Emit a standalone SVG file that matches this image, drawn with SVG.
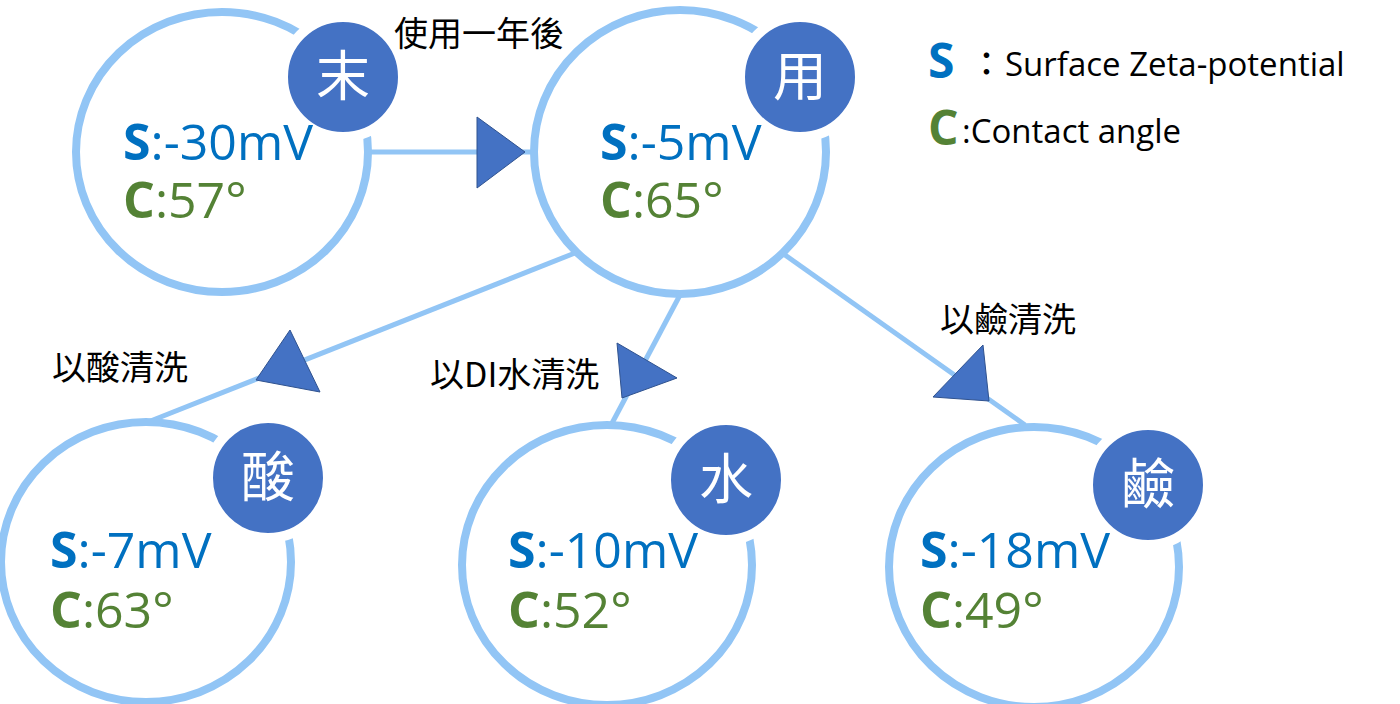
<svg xmlns="http://www.w3.org/2000/svg" width="1400" height="704" viewBox="0 0 1400 704">
<style>
.ring{fill:none;stroke:#92c5f5;stroke-width:8}
.badge{fill:#4472c4;stroke:#fff;stroke-width:10}
.bt{fill:#fff;font-family:"Noto Sans CJK TC",sans-serif;font-size:54px;text-anchor:middle}
.s{fill:#0070c0;font-family:"Open Sans",sans-serif;font-size:50px;font-weight:500}
.c{fill:#548235;font-family:"Open Sans",sans-serif;font-size:50px;font-weight:500}
.b{font-weight:bold}
.lbl{fill:#000;font-family:"Noto Sans CJK TC",sans-serif;font-size:34px}
.leg{fill:#000;font-family:"Open Sans",sans-serif;font-size:33px;font-weight:500}
.line{stroke:#92c5f5;stroke-width:5;fill:none}
.tri{fill:#4472c4;stroke:#2f528f;stroke-width:1}
</style>
<rect width="1400" height="704" fill="#fff"/>
<g id="connectors">
<line class="line" x1="368" y1="152" x2="532" y2="152"/>
<polygon class="tri" points="477,117 525,152 477,188"/>
<line class="line" x1="575" y1="253" x2="148" y2="422"/>
<polygon class="tri" points="290,330 256,380 320,392"/>
<line class="line" x1="680" y1="295" x2="610" y2="427"/>
<polygon class="tri" points="617,343 677,378 622,398"/>
<line class="line" x1="785" y1="255" x2="1025" y2="425"/>
<polygon class="tri" points="983,345 933,397 989,401"/>
</g>
<g id="n1">
<ellipse class="ring" cx="222" cy="152" rx="146" ry="140"/>
<circle class="badge" cx="343" cy="77" r="60"/>
<text class="bt" x="343" y="96">末</text>
<text x="123" y="160" class="s"><tspan class="b">S</tspan>:-30mV</text>
<text x="123" y="218" class="c"><tspan class="b">C</tspan>:57°</text>
</g>
<g id="n2">
<ellipse class="ring" cx="680" cy="152" rx="146" ry="142"/>
<circle class="badge" cx="800" cy="77" r="60"/>
<text class="bt" x="800" y="96">用</text>
<text x="600" y="160" class="s"><tspan class="b">S</tspan>:-5mV</text>
<text x="600" y="218" class="c"><tspan class="b">C</tspan>:65°</text>
</g>
<g id="n3">
<ellipse class="ring" cx="146" cy="562" rx="145" ry="140"/>
<circle class="badge" cx="268" cy="478" r="60"/>
<text class="bt" x="268" y="497">酸</text>
<text x="50" y="568" class="s"><tspan class="b">S</tspan>:-7mV</text>
<text x="50" y="628" class="c"><tspan class="b">C</tspan>:63°</text>
</g>
<g id="n4">
<ellipse class="ring" cx="607" cy="565" rx="145" ry="140"/>
<circle class="badge" cx="726" cy="480" r="60"/>
<text class="bt" x="726" y="499">水</text>
<text x="508" y="568" class="s"><tspan class="b">S</tspan>:-10mV</text>
<text x="508" y="628" class="c"><tspan class="b">C</tspan>:52°</text>
</g>
<g id="n5">
<ellipse class="ring" cx="1034" cy="567" rx="145" ry="140"/>
<circle class="badge" cx="1148" cy="485" r="60"/>
<text class="bt" x="1148" y="504">鹼</text>
<text x="920" y="568" class="s"><tspan class="b">S</tspan>:-18mV</text>
<text x="920" y="628" class="c"><tspan class="b">C</tspan>:49°</text>
</g>
<g id="labels">
<text class="lbl" x="394" y="46">使用一年後</text>
<text class="lbl" x="52" y="380">以酸清洗</text>
<text class="lbl" x="430" y="387">以DI水清洗</text>
<text class="lbl" x="940" y="332">以鹼清洗</text>
</g>
<g id="legend">
<text x="928" y="78" class="s b" style="font-size:48px">S</text>
<text x="970" y="76" class="leg" style="font-family:'Noto Sans CJK TC',sans-serif">：</text>
<text x="1005" y="76" class="leg">Surface Zeta-potential</text>
<text x="928" y="145" class="c b" style="font-size:48px">C</text>
<text x="962" y="143" class="leg">:Contact angle</text>
</g>
</svg>
